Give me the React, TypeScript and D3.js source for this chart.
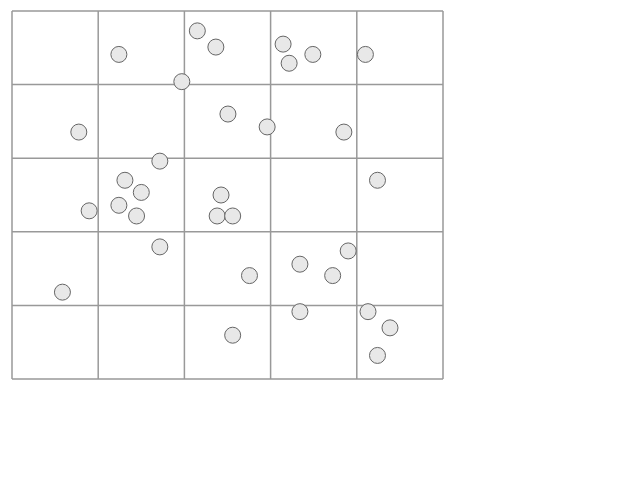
import React, { useEffect, useRef } from 'react';
import * as d3 from 'd3';

// point positions, 0..100 on both axes (y grows downward)
const xValues = [24.8, 43.0, 47.3, 39.4, 62.9, 64.3, 69.8, 82.0, 15.5, 50.1, 59.2, 77.0, 34.3, 26.2, 30.0, 24.8, 28.9,
  17.9, 48.5, 47.6, 51.2, 84.8, 34.3, 55.1, 66.8, 74.4, 78.0, 11.7, 66.8, 82.6, 87.7, 84.8, 51.2];
const yValues = [11.8, 5.4, 9.8, 19.2, 9.0, 14.2, 11.8, 11.8, 32.9, 28.0, 31.5, 32.9, 40.8, 46.0, 49.3, 52.8, 55.7,
  54.3, 50.0, 55.7, 55.7, 46.0, 64.1, 71.9, 68.8, 71.9, 65.2, 76.4, 81.7, 81.7, 86.1, 93.6, 88.1];
const gridTicks = [0, 20, 40, 60, 80, 100];

export default function App() {
  const chartRef = useRef<SVGSVGElement>(null);

  useEffect(() => {
    const margin = { top: 3, left: 4 };
    const width = 431;
    const height = 368;

    const svg = d3.select(chartRef.current);
    svg.selectAll('*').remove();
    const chart = svg.append('g')
      .attr('transform', `translate(${margin.left},${margin.top})`);

    const x = d3.scaleLinear().domain([0, 100]).range([0, width]);
    const y = d3.scaleLinear().domain([0, 100]).range([0, height]);

    // grid lines
    chart.selectAll('.vline')
      .data(gridTicks)
      .enter().append('line')
      .attr('class', 'vline')
      .attr('x1', (d) => x(d))
      .attr('x2', (d) => x(d))
      .attr('y1', 0)
      .attr('y2', height)
      .attr('stroke', '#999')
      .attr('stroke-width', 1.5);

    chart.selectAll('.hline')
      .data(gridTicks)
      .enter().append('line')
      .attr('class', 'hline')
      .attr('x1', 0)
      .attr('x2', width)
      .attr('y1', (d) => y(d))
      .attr('y2', (d) => y(d))
      .attr('stroke', '#999')
      .attr('stroke-width', 1.5);

    const points = xValues.map((v, i) => [v, yValues[i]]);

    chart.selectAll('.point')
      .data(points)
      .enter().append('circle')
      .attr('class', 'point')
      .attr('cx', (d) => x(d[0]))
      .attr('cy', (d) => y(d[1]))
      .attr('r', 8)
      .attr('fill', '#e8e8e8')
      .attr('stroke', '#666')
      .attr('stroke-width', 1);
  }, []);

  return (
    <svg ref={chartRef} width={624} height={464} style={{ display: 'block' }} />
  );
}
